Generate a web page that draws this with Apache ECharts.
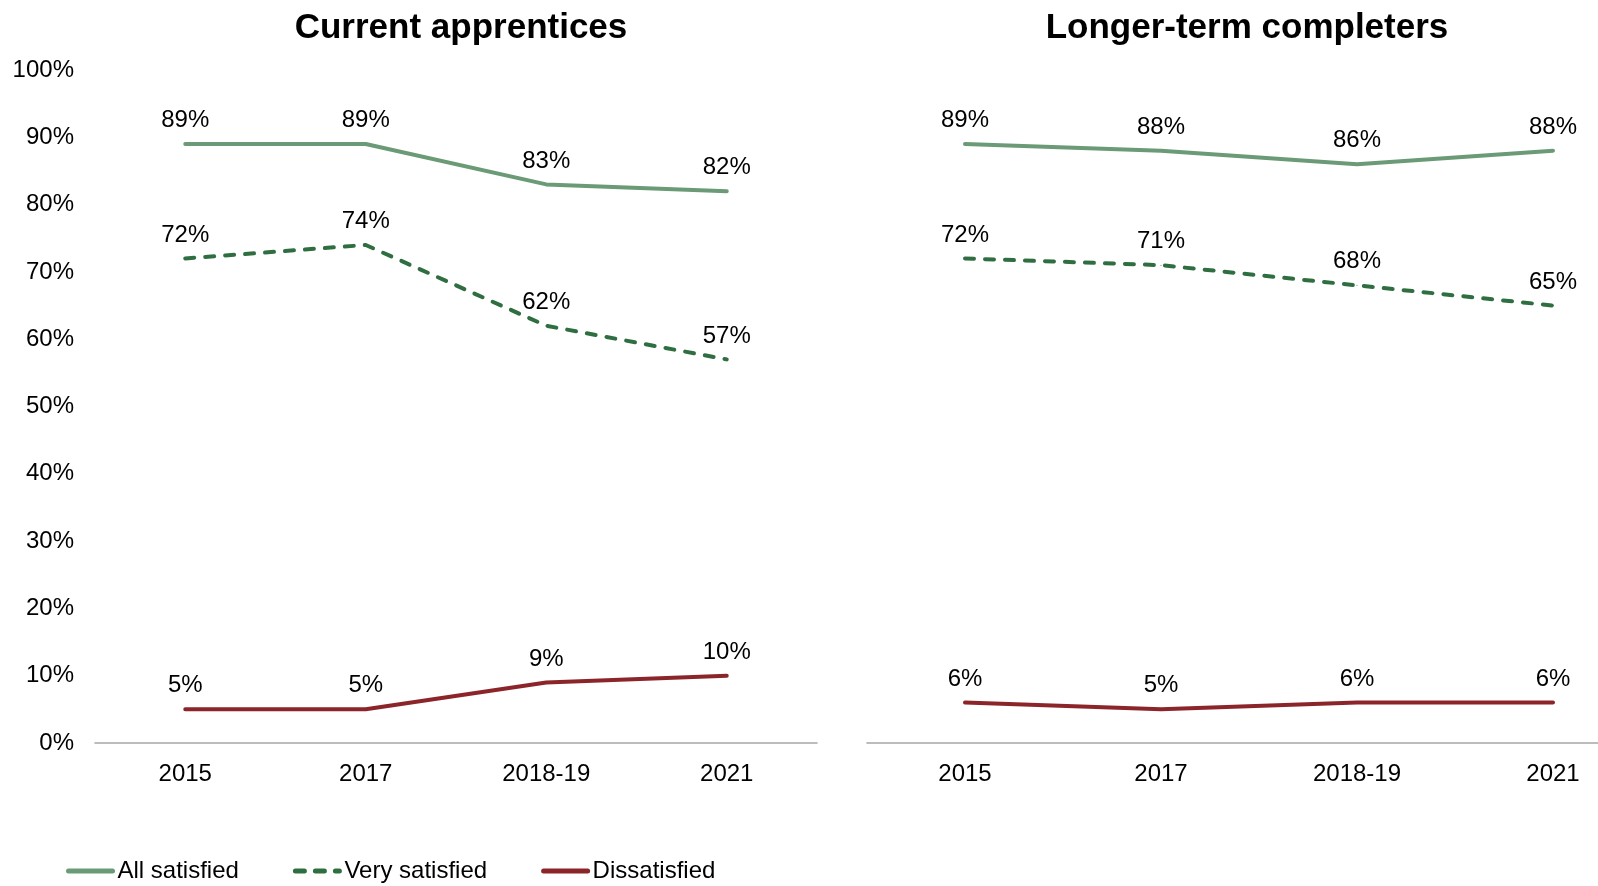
<!DOCTYPE html>
<html>
<head>
<meta charset="utf-8">
<script src="https://cdn.jsdelivr.net/npm/echarts@6/dist/echarts.min.js"></script>
<style>html,body{margin:0;padding:0;background:#fff;}#c{width:1598px;height:886px;}</style>
</head>
<body>
<div id="c"></div>
<script>
const categories = ['2015', '2017', '2018-19', '2021'];
const yTicks = [0, 10, 20, 30, 40, 50, 60, 70, 80, 90, 100];
const seriesNames = ['All satisfied', 'Very satisfied', 'Dissatisfied'];
const panelTitles = ['Current apprentices', 'Longer-term completers'];

const currentAll = [89, 89, 83, 82];
const currentVery = [72, 74, 62, 57];
const currentDis = [5, 5, 9, 10];

const completersAll = [89, 88, 86, 88];
const completersVery = [72, 71, 68, 65];
const completersDis = [6, 5, 6, 6];

const colors = ['#6b9a76', '#2f6e40', '#8b2529'];
const FONT = 'Liberation Sans, Arial, sans-serif';
const FS = 24;

const chart = echarts.init(document.getElementById('c'), null, {renderer: 'canvas'});

function mkSeries(name, data, idx, color, dashed) {
  return {
    name: name,
    type: 'line',
    xAxisIndex: idx,
    yAxisIndex: idx,
    data: data,
    symbol: 'circle',
    symbolSize: 1,
    showSymbol: true,
    smooth: false,
    silent: true,
    lineStyle: {
      color: color,
      width: 4,
      type: dashed ? [9, 11] : 'solid',
      cap: 'round',
      join: 'round'
    },
    itemStyle: {color: color},
    label: {
      show: true,
      position: 'top',
      distance: 11,
      formatter: p => p.value + '%',
      color: '#000',
      fontSize: FS,
      fontFamily: FONT
    },
    labelLayout: {hideOverlap: false},
    z: dashed ? 3 : 2
  };
}

const xAxisBase = {
  type: 'category',
  data: categories,
  boundaryGap: true,
  axisLine: {show: true, lineStyle: {color: '#a6a6a6', width: 1.6}},
  axisTick: {show: false},
  axisLabel: {color: '#000', fontSize: FS, fontFamily: FONT, margin: 19}
};

const option = {
  animation: false,
  backgroundColor: '#fff',
  title: [
    {text: panelTitles[0], left: 456, top: 6, textAlign: 'center',
     textStyle: {fontSize: 35, fontWeight: 'bold', color: '#000', fontFamily: FONT}},
    {text: panelTitles[1], left: 1242, top: 6, textAlign: 'center',
     textStyle: {fontSize: 35, fontWeight: 'bold', color: '#000', fontFamily: FONT}}
  ],
  legend: {
    data: seriesNames,
    left: 61,
    top: 854,
    itemWidth: 44,
    itemHeight: 14,
    itemGap: 54,
    itemStyle: {opacity: 0},
    lineStyle: {width: 5, cap: 'round'},
    textStyle: {color: '#000', fontSize: FS, fontFamily: FONT},
    selectedMode: false
  },
  grid: [
    {left: 95, top: 70, width: 722, height: 673, containLabel: false, outerBoundsMode: 'none'},
    {left: 867, top: 70, width: 784, height: 673, containLabel: false, outerBoundsMode: 'none'}
  ],
  xAxis: [
    Object.assign({gridIndex: 0}, xAxisBase),
    Object.assign({gridIndex: 1}, xAxisBase)
  ],
  yAxis: [
    {gridIndex: 0, type: 'value', min: 0, max: 100, interval: 10,
     axisLine: {show: false}, axisTick: {show: false}, splitLine: {show: false},
     axisLabel: {color: '#000', fontSize: FS, fontFamily: FONT, margin: 21,
       formatter: v => (yTicks.indexOf(v) >= 0 ? v + '%' : '')}},
    {gridIndex: 1, type: 'value', min: 0, max: 100, interval: 10,
     axisLine: {show: false}, axisTick: {show: false}, splitLine: {show: false},
     axisLabel: {show: false}}
  ],
  series: [
    mkSeries(seriesNames[0], currentAll, 0, colors[0], false),
    mkSeries(seriesNames[1], currentVery, 0, colors[1], true),
    mkSeries(seriesNames[2], currentDis, 0, colors[2], false),
    mkSeries(seriesNames[0], completersAll, 1, colors[0], false),
    mkSeries(seriesNames[1], completersVery, 1, colors[1], true),
    mkSeries(seriesNames[2], completersDis, 1, colors[2], false)
  ]
};
chart.setOption(option);
</script>
</body>
</html>
